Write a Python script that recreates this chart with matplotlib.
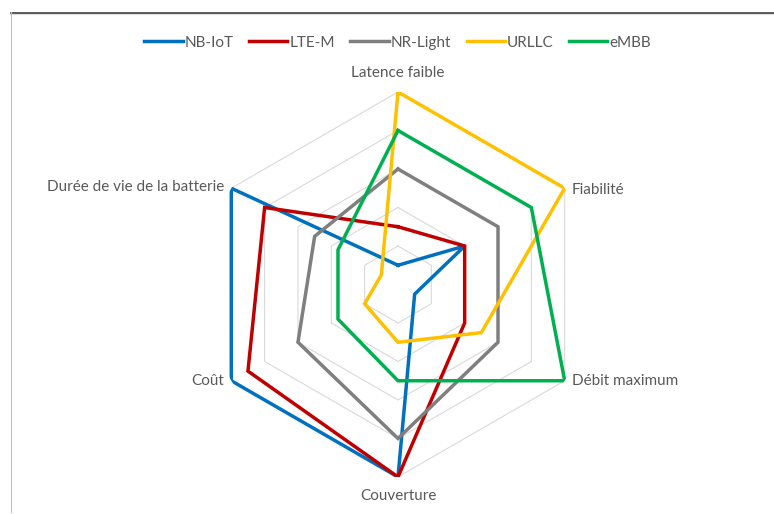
import numpy as np
import matplotlib
matplotlib.use("Agg")
import matplotlib.pyplot as plt
from matplotlib.lines import Line2D

# --------------------------
# data
# --------------------------
categories = ["Latence faible", "Fiabilité", "Débit maximum",
              "Couverture", "Coût", "Durée de vie de la batterie"]
series_names = ["NB-IoT", "LTE-M", "NR-Light", "URLLC", "eMBB"]
nb_iot = [0.5, 2, 0.5, 5, 5, 5]
lte_m = [1.5, 2, 2, 5, 4.5, 4]
nr_light = [3, 3, 3, 4, 3, 2.5]
urllc = [5, 5, 2.5, 1.5, 1, 0.5]
embb = [4, 4, 5, 2.5, 1.8, 1.8]
grid_levels = [1, 2, 3, 4, 5]

colors = ["#0070C0", "#C00000", "#7F7F7F", "#FFC000", "#00B050"]
text_color = "#595959"

plt.rcParams['font.family'] = ['Lato', 'DejaVu Sans']

fig = plt.figure(figsize=(7.74, 5.14), dpi=100)
ax = fig.add_axes([0.2655, 0.072, 0.4974, 0.749], projection="polar")
ax.set_theta_offset(np.pi / 2)
ax.set_theta_direction(-1)

n = len(categories)
angles = np.linspace(0, 2 * np.pi, n, endpoint=False)
closed = np.append(angles, angles[0])

# hexagon grid
for lvl in grid_levels:
    ax.plot(closed, [lvl] * (n + 1), color="#D9D9D9", lw=0.8, zorder=1)

for name, vals, c in zip(series_names, [nb_iot, lte_m, nr_light, urllc, embb], colors):
    ax.plot(closed, list(vals) + [vals[0]], color=c, lw=2.5, label=name,
            solid_joinstyle="miter", zorder=3)

ax.set_ylim(0, 5)
ax.set_xticks([])
ax.set_yticks([])
ax.grid(False)
ax.spines["polar"].set_visible(False)
ax.patch.set_visible(False)

# category labels
offsets = [(0, 9, "center", "bottom"), (5, -1, "left", "center"),
           (5, 0, "left", "center"), (0, -9, "center", "top"),
           (-5, 0, "right", "center"), (-5, 1, "right", "center")]
for ang, lab, (dx, dy, ha, va) in zip(angles, categories, offsets):
    ax.annotate(lab, xy=(ang, 5), xytext=(dx, dy), textcoords="offset points",
                ha=ha, va=va, fontsize=11, color=text_color)

fig.legend(loc="upper center", bbox_to_anchor=(0.514, 1 - 22 / 514), ncol=5,
           frameon=False, handlelength=2.5, handletextpad=0.15,
           columnspacing=1.0, fontsize=11, labelcolor=text_color)

# frame remnants of the screenshot
fig.add_artist(Line2D([11 / 774, 1], [1 - 14 / 514] * 2, color="#E0E0E0", lw=1.5))
fig.add_artist(Line2D([11 / 774, 1], [1 - 12.5 / 514] * 2, color="#404040", lw=1.2))
fig.add_artist(Line2D([11 / 774] * 2, [1 - 12 / 514, 2 / 514], color="#BFBFBF", lw=0.8))

fig.savefig("out.png", dpi=100)
